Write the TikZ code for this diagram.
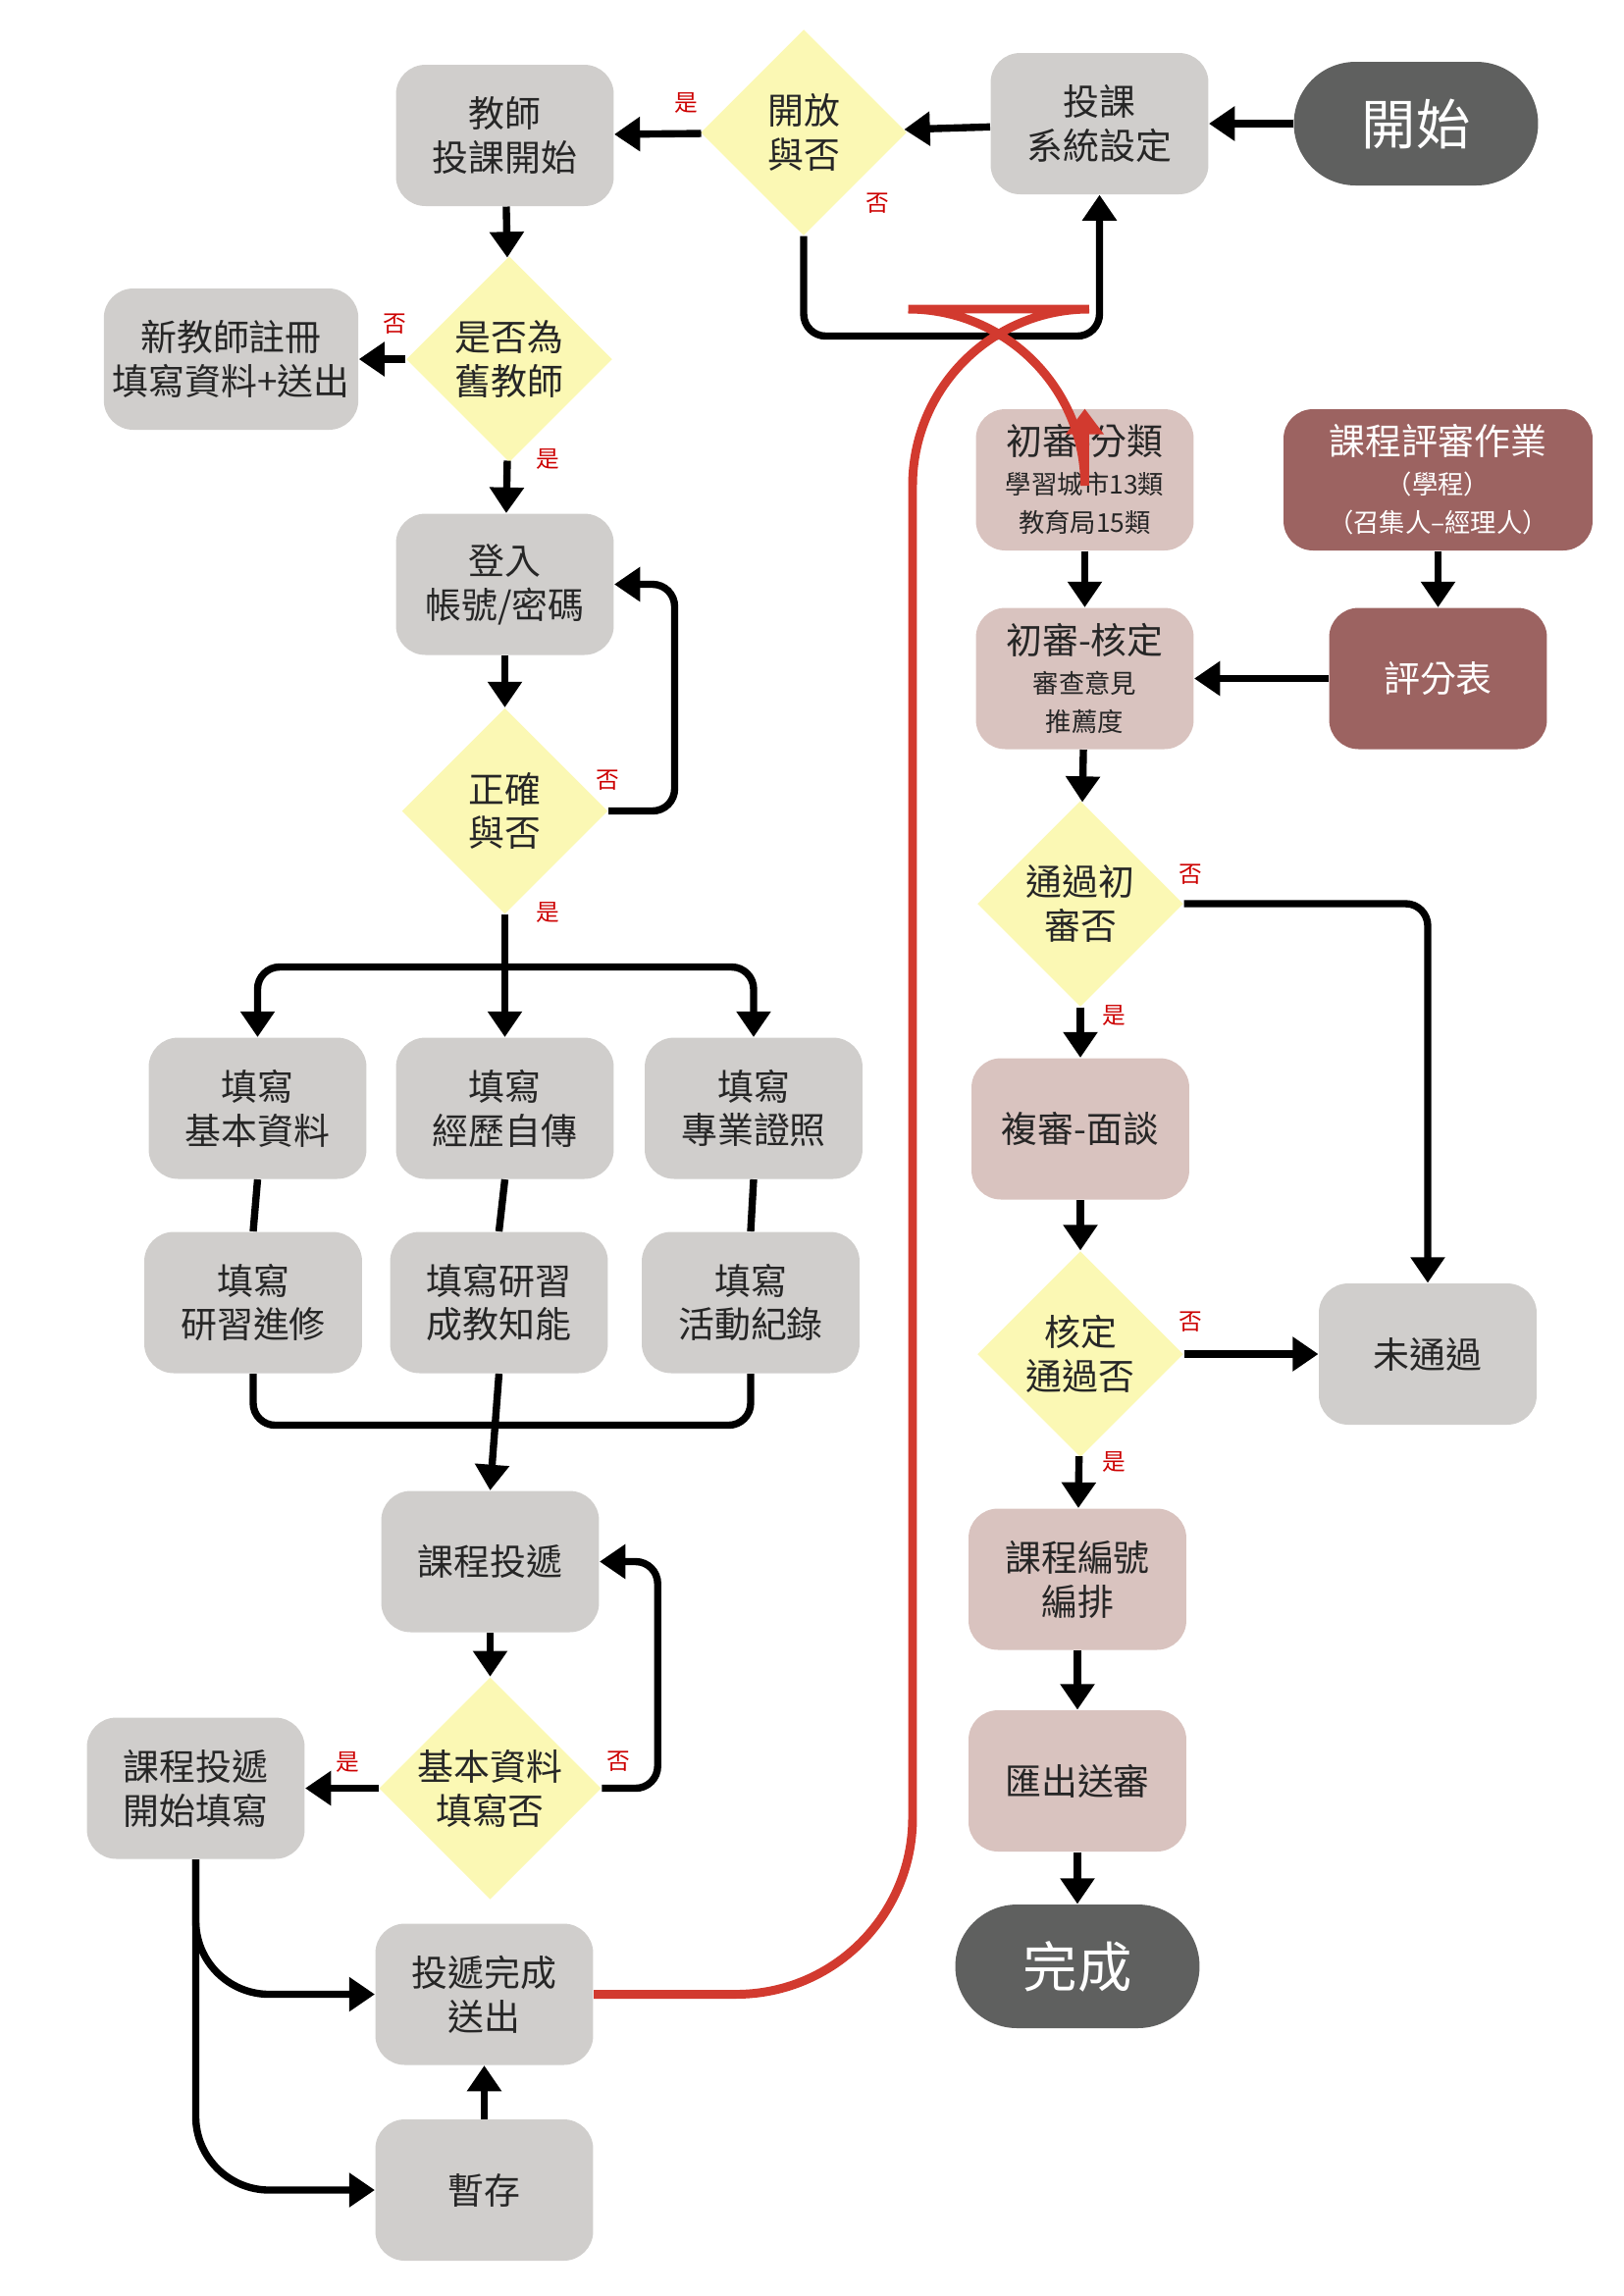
\documentclass[tikz,border=0pt]{standalone}
\usepackage{fontspec}
\setmainfont{Noto Sans CJK TC}
\usetikzlibrary{shapes.geometric,arrows.meta}
\definecolor{boxg}{HTML}{D0CECC}
\definecolor{darkg}{HTML}{5F605F}
\definecolor{pinkb}{HTML}{D9C3BF}
\definecolor{redb}{HTML}{9C6361}
\definecolor{yel}{HTML}{FBF8B4}
\definecolor{redl}{HTML}{D23A2F}
\newcommand{\smtxt}{\fontsize{10}{14}\selectfont}
\begin{document}
\begin{tikzpicture}[x=0.02cm,y=-0.02cm,
 box/.style={rounded corners=0.4cm,fill=boxg,minimum width=2.96cm,minimum height=1.92cm,align=center,font=\fontsize{14}{17}\selectfont,text=black!85},
 pbox/.style={box,fill=pinkb},
 rbox/.style={box,fill=redb,text=white},
 term/.style={rounded corners=0.84cm,fill=darkg,text=white,minimum width=3.32cm,minimum height=1.68cm,font=\fontsize{21}{24}\selectfont},
 dia/.style={diamond,aspect=1,inner sep=0pt,minimum size=2.8cm,fill=yel,align=center,font=\fontsize{14}{17}\selectfont,text=black!85},
 lab/.style={text=red!80!black,font=\fontsize{9}{10}\selectfont},
 ar/.style={line width=2.8pt,-{Triangle[length=3.5mm,width=4.5mm]},rounded corners=0.3cm},
 ln/.style={line width=2.8pt,rounded corners=0.3cm}]
\useasboundingbox (0,0) rectangle (1103,1560);
\node[term] (start) at (962,84) {開始};
\node[box] (setup) at (747,84) {投課\\系統設定};
\node[dia] (d1) at (546,90) {開放\\與否};
\node[box] (teach) at (343,92) {教師\\投課開始};
\node[dia] (d2) at (346,244) {是否為\\舊教師};
\node[box,minimum width=3.32cm] (new) at (157,244) {新教師註冊\\填寫資料+送出};
\node[box] (login) at (343,397) {登入\\帳號/密碼};
\node[dia] (d3) at (343,551) {正確\\與否};
\node[box] (f1) at (175,753) {填寫\\基本資料};
\node[box] (f2) at (343,753) {填寫\\經歷自傳};
\node[box] (f3) at (512,753) {填寫\\專業證照};
\node[box] (g1) at (172,885) {填寫\\研習進修};
\node[box] (g2) at (339,885) {填寫研習\\成教知能};
\node[box] (g3) at (510,885) {填寫\\活動紀錄};
\node[box] (submit) at (333,1061) {課程投遞};
\node[dia] (d4) at (333,1215) {基本資料\\填寫否};
\node[box] (sf) at (133,1215) {課程投遞\\開始填寫};
\node[box] (done) at (329,1355) {投遞完成\\送出};
\node[box] (save) at (329,1488) {暫存};
\node[pbox] (r1) at (737,326) {初審-分類\\[-2pt]{\smtxt 學習城市13類}\\[-2pt]{\smtxt 教育局15類}};
\node[rbox,minimum width=4.2cm] (review) at (977,326) {課程評審作業\\[-2pt]{\smtxt （學程）}\\[-2pt]{\smtxt （召集人–經理人）}};
\node[rbox] (score) at (977,461) {評分表};
\node[pbox] (r2) at (737,461) {初審-核定\\[-2pt]{\smtxt 審查意見}\\[-2pt]{\smtxt 推薦度}};
\node[dia] (d5) at (734,614) {通過初\\審否};
\node[pbox] (r3) at (734,767) {複審-面談};
\node[dia] (d6) at (734,920) {核定\\通過否};
\node[box] (fail) at (970,920) {未通過};
\node[pbox] (num) at (732,1073) {課程編號\\編排};
\node[pbox] (exp) at (732,1210) {匯出送審};
\node[term] (end) at (732,1336) {完成};
\coordinate (j1) at (343,657);
\draw[ar] (start) -- (setup);
\draw[ar] (setup) -- (d1);
\draw[ar] (d1) -- (teach);
\draw[ar] (d1.south) -- ++(0,68) -| (setup.south);
\draw[ar] (teach) -- (d2);
\draw[ar] (d2) -- (new);
\draw[ar] (d2) -- (login);
\draw[ar] (login) -- (d3);
\draw[ar] (d3.east) -- ++(45,0) |- (login.east);
\draw[ln] (d3.south) -- (j1);
\draw[ar] (j1) -| (f1.north);
\draw[ar] (j1) -| (f3.north);
\draw[ar] (j1) -- (f2.north);
\draw[ln] (f1.south) -- (g1.north);
\draw[ln] (f2.south) -- (g2.north);
\draw[ln] (f3.south) -- (g3.north);
\draw[ln] (g1.south) -- ++(0,35) -| (g3.south);
\draw[ar] (g2.south) -- (submit.north);
\draw[ar] (submit) -- (d4);
\draw[ar] (d4.east) -- ++(38,0) |- (submit.east);
\draw[ar] (d4) -- (sf);
\draw[ar,rounded corners=1cm] (sf.south) |- (done.west);
\draw[ar,rounded corners=1cm] (sf.south) |- (save.west);
\draw[ar] (save) -- (done);
\draw[line width=3.4pt,color=redl,-{Triangle[length=3.5mm,width=5mm]},rounded corners=2.4cm] (done.east) -- (620,1355) -- (620,210) -- (737,210) -- (r1.north);
\draw[ar] (r1) -- (r2);
\draw[ar] (review) -- (score);
\draw[ar] (score) -- (r2);
\draw[ar] (r2) -- (d5);
\draw[ar] (d5) -- (r3);
\draw[ar] (d5.east) -| (fail.north);
\draw[ar] (r3) -- (d6);
\draw[ar] (d6) -- (fail);
\draw[ar] (d6) -- (num);
\draw[ar] (num) -- (exp);
\draw[ar] (exp) -- (end);
\node[lab] (l1) at (466,70) {是};
\node[lab] (l2) at (596,138) {否};
\node[lab] (l3) at (268,220) {否};
\node[lab] (l4) at (372,312) {是};
\node[lab] (l5) at (413,530) {否};
\node[lab] (l6) at (372,620) {是};
\node[lab] (l7) at (420,1197) {否};
\node[lab] (l8) at (236,1197) {是};
\node[lab] (l9) at (809,594) {否};
\node[lab] (l10) at (757,690) {是};
\node[lab] (l11) at (809,898) {否};
\node[lab] (l12) at (757,993) {是};
\end{tikzpicture}
\end{document}
